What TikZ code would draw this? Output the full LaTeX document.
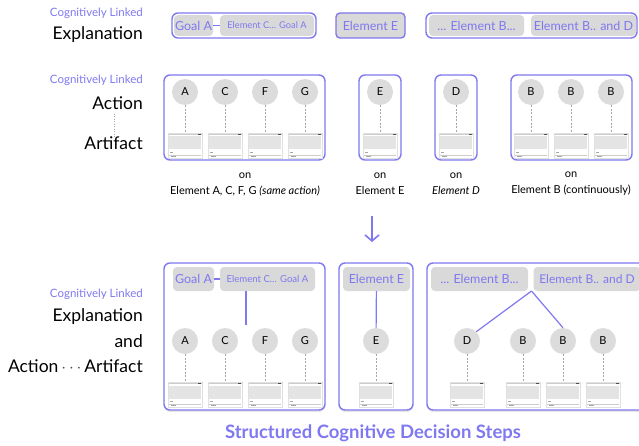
\documentclass[tikz,border=0pt]{standalone}
\usepackage{fontspec}
\setmainfont{Lato}
\usetikzlibrary{arrows.meta,shadows}

\definecolor{linkpurple}{HTML}{7F78F0}
\definecolor{boxgray}{HTML}{D9D9D9}
\definecolor{nodegray}{HTML}{DCDCDC}
\definecolor{cardfill}{HTML}{E4E4E4}

\tikzset{
  card/.style={draw=black!12, line width=0.4pt, fill=white, minimum width=34pt, minimum height=25pt, inner sep=0pt},
  cardline/.style={draw=black!20, line width=0.3pt},
  pics/artifact/.style={code={
    \node[card] (-box) at (0,12.5) {};
    \fill[cardfill] (-16,3.5) rectangle (16,16.5);
    \draw[cardline] (-16.5,1.5) -- (16.5,1.5);
    \fill[black!70] (13,0.8) rectangle (16,2.2);
    \fill[black!35] (-15,18.8) rectangle (-12,19.8);
    \draw[cardline] (-16,22.3) -- (16,22.3);
    \fill[black!35] (-14,23.1) rectangle (-9,24);
  }}
}

\begin{document}
\begin{tikzpicture}[x=1pt,y=1pt,yscale=-1,xscale=1,
  grp/.style={draw=linkpurple, line width=1.4pt, rounded corners=6pt, inner sep=0pt},
  lowgrp/.style={grp, fill=white, drop shadow={opacity=0.18, shadow xshift=0pt, shadow yshift=-2pt}},
  expl/.style={fill=boxgray, text=linkpurple, rounded corners=4pt, inner sep=0pt, font=\fontsize{12.5}{14}\selectfont},
  act/.style={circle, fill=nodegray, minimum size=26pt, inner sep=0pt, font=\fontsize{11}{13}\selectfont},
  stem/.style={draw=black!35, dashed, dash pattern=on 2pt off 1.5pt, line width=0.6pt},
  link/.style={draw=linkpurple, line width=1.2pt},
  lead/.style={text=linkpurple, inner sep=0pt, font=\fontsize{11.5}{13}\selectfont},
  head/.style={inner sep=0pt, font=\fontsize{17.5}{20}\selectfont},
  ontext/.style={align=center, inner sep=0pt, font=\fontsize{11}{16}\selectfont}
  ]
		\useasboundingbox (0,0) rectangle (639,446);

		% Left labels of the top row
		\node[lead, anchor=east] (clTop) at (143,13) {Cognitively Linked};
		\node[head, anchor=east] (exTop) at (143,35) {Explanation};

		% Top row: explanation boxes in purple frames
		\node[grp, minimum width=144pt, minimum height=25pt] (gTopA) at (244,25.5) {};
		\node[expl, minimum width=39pt, minimum height=21pt] (goalTop) at (193.5,25.5) {Goal A};
		\node[expl, minimum width=94pt, minimum height=21pt, font=\fontsize{9.3}{11}\selectfont] (elCTop) at (267,25.5) {Element C... Goal A};
		\draw[link] (goalTop) -- (elCTop);

		\node[grp, expl, minimum width=69pt, minimum height=25pt] (elETop) at (370.5,25.5) {Element E};

		\node[grp, minimum width=211pt, minimum height=25pt] (gTopB) at (531.5,25.5) {};
		\node[expl, minimum width=95pt, minimum height=21pt] (elBTop) at (476.5,25.5) {... Element B...};
		\node[expl, minimum width=105pt, minimum height=21pt] (elBDTop) at (583.5,25.5) {Element B.. and D};

		% Left labels of the middle row
		\node[lead, anchor=east] (clMid) at (143,80) {Cognitively Linked};
		\node[head, anchor=east] (actMid) at (143,103) {Action};
		\node[head, anchor=east] (artMid) at (143,143) {Artifact};
		\draw[stem, dotted, dash pattern=on 1pt off 1.5pt] (actMid.south) ++(-3,4) coordinate (dotTop) -- (dotTop |- artMid.north);

		% Middle row: action groups
		\node[grp, minimum width=161pt, minimum height=85pt] (gMidA) at (244.5,117.5) {};
		\node[grp, minimum width=42pt, minimum height=85pt] (gMidE) at (380,117.5) {};
		\node[grp, minimum width=42pt, minimum height=85pt] (gMidD) at (456,117.5) {};
		\node[grp, minimum width=121pt, minimum height=85pt] (gMidB) at (571.5,117.5) {};

		% Middle row: actions
		\node[act] (nA) at (185,92) {A};
		\node[act] (nC) at (225,92) {C};
		\node[act] (nF) at (265,92) {F};
		\node[act] (nG) at (305,92) {G};
		\node[act] (nE) at (380,92) {E};
		\node[act] (nD) at (456,92) {D};
		\node[act] (nB1) at (531,92) {B};
		\node[act] (nB2) at (571,92) {B};
		\node[act] (nB3) at (611,92) {B};

		% Middle row: artifacts
		\pic[transform shape] (cA) at (185,133) {artifact};
		\pic[transform shape] (cC) at (225,133) {artifact};
		\pic[transform shape] (cF) at (265,133) {artifact};
		\pic[transform shape] (cG) at (305,133) {artifact};
		\pic[transform shape] (cE) at (380,133) {artifact};
		\pic[transform shape] (cD) at (456,133) {artifact};
		\pic[transform shape] (cB1) at (531,133) {artifact};
		\pic[transform shape] (cB2) at (571,133) {artifact};
		\pic[transform shape] (cB3) at (611,133) {artifact};

		% Middle row: action to artifact
		\draw[stem] (nA) -- (cA-box);
		\draw[stem] (nC) -- (cC-box);
		\draw[stem] (nF) -- (cF-box);
		\draw[stem] (nG) -- (cG-box);
		\draw[stem] (nE) -- (cE-box);
		\draw[stem] (nD) -- (cD-box);
		\draw[stem] (nB1) -- (cB1-box);
		\draw[stem] (nB2) -- (cB2-box);
		\draw[stem] (nB3) -- (cB3-box);

		% Texts below the groups
		\node[ontext] (onA) at (245,184) {on\\Element A, C, F, G \textit{(same action)}};
		\node[ontext] (onE) at (380,184) {on\\Element E};
		\node[ontext] (onD) at (456,184) {on\\\textit{Element D}};
		\node[ontext] (onB) at (571,184) {on\\Element B (continuously)};

		% The purple arrow down
		\coordinate (arrTop) at (372,216);
		\coordinate (arrEnd) at (372,242);
		\draw[link, line width=1.6pt, -{Straight Barb[length=6pt,width=14pt]}] (arrTop) -- (arrEnd);

		% Left labels of the bottom row
		\node[lead, anchor=east] (clLow) at (143,294) {Cognitively Linked};
		\node[head, anchor=east] (exLow) at (143,317) {Explanation};
		\node[head, anchor=east] (andLow) at (143,341) {and};
		\node[head, anchor=east] (aaLow) at (143,366) {Action\,\textcolor{black!70}{$\cdots$}\,Artifact};

		% Bottom row: groups with shadow
		\node[lowgrp, minimum width=161pt, minimum height=147pt] (gLowA) at (244.5,336.5) {};
		\node[lowgrp, minimum width=74pt, minimum height=147pt] (gLowE) at (376,336.5) {};
		\node[lowgrp, minimum width=223pt, minimum height=147pt] (gLowB) at (538.5,336.5) {};

		% Bottom row: explanations
		\node[expl, minimum width=41pt, minimum height=24pt] (goalLow) at (193.5,279) {Goal A};
		\node[expl, minimum width=95pt, minimum height=24pt, font=\fontsize{9.6}{11}\selectfont] (elCLow) at (267.5,279) {Element C... Goal A};
		\node[expl, minimum width=67pt, minimum height=24pt] (elELow) at (376.5,279) {Element E};
		\node[expl, minimum width=97pt, minimum height=24pt] (elBLow) at (479.5,279) {... Element B...};
		\node[expl, minimum width=107pt, minimum height=24pt, font=\fontsize{12}{14}\selectfont] (elBDLow) at (587,279) {Element B.. and D};

		% Bottom row: actions
		\node[act] (mA) at (185,341) {A};
		\node[act] (mC) at (225,341) {C};
		\node[act] (mF) at (265,341) {F};
		\node[act] (mG) at (305,341) {G};
		\node[act] (mE) at (376,341) {E};
		\node[act] (mD) at (467,341) {D};
		\node[act] (mB1) at (523,341) {B};
		\node[act] (mB2) at (563,341) {B};
		\node[act] (mB3) at (603,341) {B};

		% Bottom row: artifacts
		\pic[transform shape] (dA) at (185,382) {artifact};
		\pic[transform shape] (dC) at (225,382) {artifact};
		\pic[transform shape] (dF) at (265,382) {artifact};
		\pic[transform shape] (dG) at (305,382) {artifact};
		\pic[transform shape] (dE) at (376,382) {artifact};
		\pic[transform shape] (dD) at (467,382) {artifact};
		\pic[transform shape] (dB1) at (523,382) {artifact};
		\pic[transform shape] (dB2) at (563,382) {artifact};
		\pic[transform shape] (dB3) at (603,382) {artifact};

		\draw[stem] (mA) -- (dA-box);
		\draw[stem] (mC) -- (dC-box);
		\draw[stem] (mF) -- (dF-box);
		\draw[stem] (mG) -- (dG-box);
		\draw[stem] (mE) -- (dE-box);
		\draw[stem] (mD) -- (dD-box);
		\draw[stem] (mB1) -- (dB1-box);
		\draw[stem] (mB2) -- (dB2-box);
		\draw[stem] (mB3) -- (dB3-box);

		% Bottom row: explanation links in purple
		\draw[link] (goalLow) -- (elCLow);
		\coordinate (cEnd) at (246,325);
		\draw[link] (elCLow.south -| cEnd) -- (cEnd);
		\draw[link] (elELow) -- (mE);
		\coordinate (fork) at (531.5,291);
		\draw[link] (fork) -- (mD.north east);
		\draw[link] (fork) -- (mB2.north);

		% Title
		\node[text=linkpurple, inner sep=0pt, font=\fontsize{18.5}{20}\selectfont\bfseries] (title) at (373,433) {Structured Cognitive Decision Steps};
	\end{tikzpicture}
\end{document}
